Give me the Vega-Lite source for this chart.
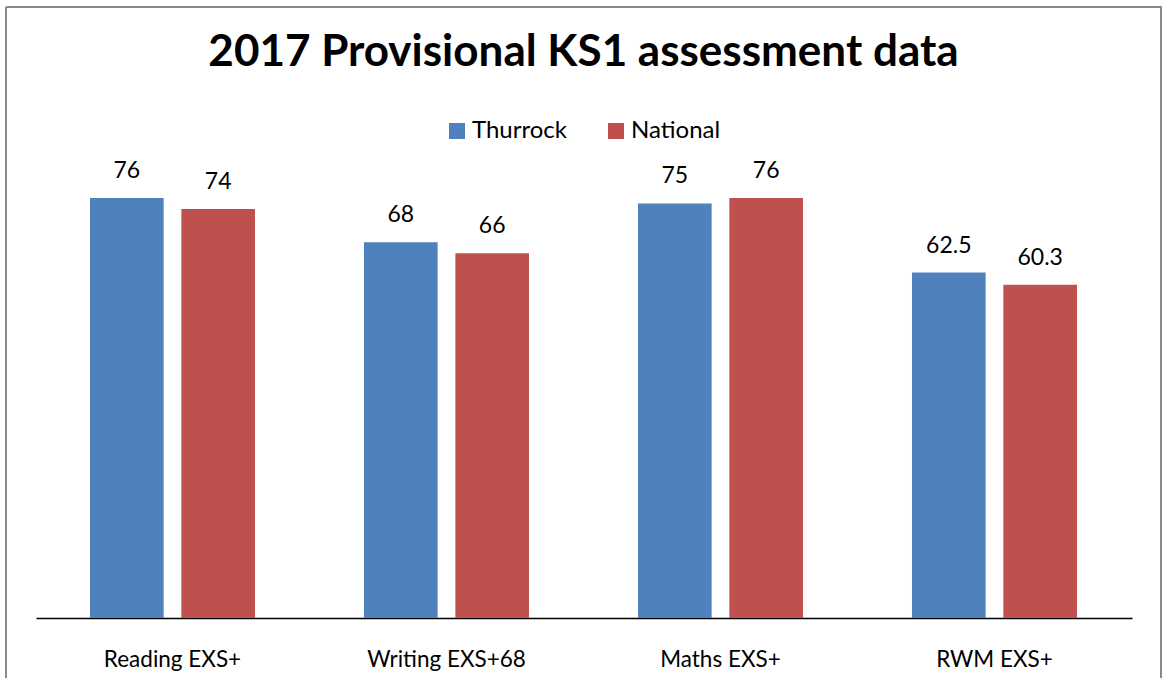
{
  "$schema": "https://vega.github.io/schema/vega-lite/v6.json",
  "width": 1155,
  "height": 671,
  "autosize": {"type": "none"},
  "padding": {"left": 6, "top": 7, "right": 3, "bottom": 0},
  "background": "white",
  "title": {
    "text": "2017 Provisional KS1 assessment data",
    "font": "Lato",
    "fontSize": 44,
    "fontWeight": "bold",
    "color": "black",
    "anchor": "middle",
    "baseline": "alphabetic",
    "offset": -103
  },
  "config": {
    "view": {"stroke": "#898989", "strokeWidth": 2, "strokeDash": [1826, 1155, 671, 0]},
    "font": "Lato"
  },
  "data": {
    "values": [
      {"category": "Reading EXS+", "series": "Thurrock", "value": 76},
      {"category": "Reading EXS+", "series": "National", "value": 74},
      {"category": "Writing EXS+68", "series": "Thurrock", "value": 68},
      {"category": "Writing EXS+68", "series": "National", "value": 66},
      {"category": "Maths EXS+", "series": "Thurrock", "value": 75},
      {"category": "Maths EXS+", "series": "National", "value": 76},
      {"category": "RWM EXS+", "series": "Thurrock", "value": 62.5},
      {"category": "RWM EXS+", "series": "National", "value": 60.3}
    ]
  },
  "encoding": {
    "x": {
      "field": "category",
      "type": "nominal",
      "sort": null,
      "scale": {"paddingInner": 0.3978, "paddingOuter": 0.3066, "align": 0.5},
      "axis": {
        "title": null,
        "labelAngle": 0,
        "labelFont": "Lato",
        "labelFontSize": 22.5,
        "labelColor": "black",
        "labelPadding": 30,
        "ticks": false,
        "grid": false,
        "domain": true,
        "domainColor": "black",
        "domainWidth": 1.5,
        "domainDash": [1096, 59],
        "domainDashOffset": 1125,
        "offset": -60
      }
    },
    "xOffset": {
      "field": "series",
      "type": "nominal",
      "sort": ["Thurrock", "National"],
      "scale": {"paddingInner": 0.194, "paddingOuter": 0}
    },
    "y": {
      "field": "value",
      "type": "quantitative",
      "scale": {"domain": [-10.86, 110.55], "nice": false, "zero": false},
      "axis": null
    }
  },
  "layer": [
    {
      "mark": {"type": "bar"},
      "encoding": {
        "color": {
          "field": "series",
          "type": "nominal",
          "sort": ["Thurrock", "National"],
          "scale": {"domain": ["Thurrock", "National"], "range": ["#4F81BD", "#C0504D"]},
          "legend": {
            "title": null,
            "orient": "none",
            "direction": "horizontal",
            "legendX": 439,
            "legendY": 112,
            "symbolType": "square",
            "symbolSize": 256,
            "symbolStrokeWidth": 0,
            "symbolOpacity": 1,
            "labelFont": "Lato",
            "labelFontSize": 24,
            "labelColor": "black",
            "labelOffset": 3,
            "columnPadding": 37
          }
        }
      }
    },
    {
      "mark": {"type": "text", "baseline": "alphabetic", "dy": -20, "font": "Lato", "fontSize": 23, "color": "black"},
      "encoding": {
        "text": {"field": "value", "type": "quantitative"}
      }
    }
  ]
}
